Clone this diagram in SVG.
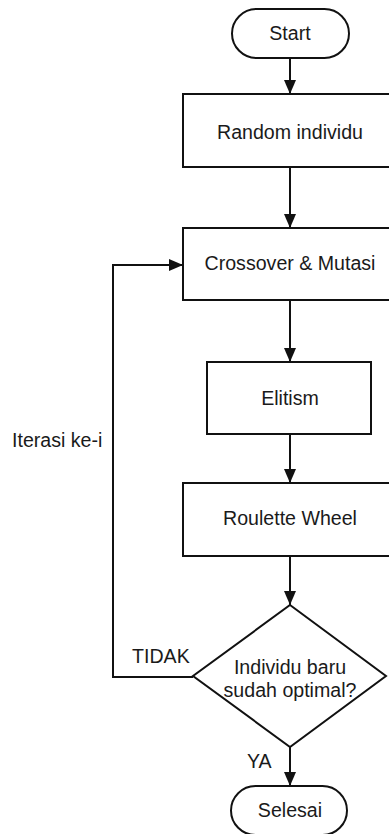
<svg xmlns="http://www.w3.org/2000/svg" width="389" height="834" viewBox="0 0 389 834">
<defs>
<style>
.shape{fill:#fff;stroke:#111;stroke-width:2}
.conn{fill:none;stroke:#111;stroke-width:2}
text{font-family:"Liberation Sans",Arial,sans-serif;font-size:19.6px;fill:#1a1a1a}
.c{text-anchor:middle}
</style>
<marker id="arr" viewBox="0 0 14 12" refX="14" refY="6" markerWidth="14" markerHeight="12" markerUnits="userSpaceOnUse" orient="auto">
<path d="M0,0 L14,6 L0,12 Z" fill="#111"/>
</marker>
</defs>
<rect width="389" height="834" fill="#fff"/>
<g id="connectors">
<line class="conn" x1="290" y1="58" x2="290" y2="94" marker-end="url(#arr)"/>
<line class="conn" x1="290" y1="167" x2="290" y2="228" marker-end="url(#arr)"/>
<line class="conn" x1="290" y1="300" x2="290" y2="362" marker-end="url(#arr)"/>
<line class="conn" x1="290" y1="434" x2="290" y2="483" marker-end="url(#arr)"/>
<line class="conn" x1="290" y1="556" x2="290" y2="605" marker-end="url(#arr)"/>
<line class="conn" x1="290" y1="747" x2="290" y2="786" marker-end="url(#arr)"/>
<polyline class="conn" points="193,677 113,677 113,265 183,265" marker-end="url(#arr)"/>
<text x="132" y="663">TIDAK</text>
<text x="247" y="768">YA</text>
<text x="12" y="447">Iterasi ke-i</text>
</g>
<g id="start">
<rect class="shape" x="232" y="9" width="117" height="49" rx="24.5"/>
<text class="c" x="290" y="40">Start</text>
</g>
<g id="random">
<rect class="shape" x="183" y="94" width="214" height="73"/>
<text class="c" x="290" y="139">Random individu</text>
</g>
<g id="crossover">
<rect class="shape" x="183" y="228" width="214" height="72"/>
<text class="c" x="290" y="270">Crossover &amp; Mutasi</text>
</g>
<g id="elitism">
<rect class="shape" x="207" y="362" width="164" height="72"/>
<text class="c" x="290" y="405">Elitism</text>
</g>
<g id="roulette">
<rect class="shape" x="183" y="483" width="214" height="73"/>
<text class="c" x="290" y="525">Roulette Wheel</text>
</g>
<g id="decision">
<polygon class="shape" points="290,605 386,676 290,747 193,676"/>
<text class="c" x="290" y="674">Individu baru</text>
<text class="c" x="290" y="697">sudah optimal?</text>
</g>
<g id="selesai">
<rect class="shape" x="231" y="786" width="116" height="49" rx="24.5"/>
<text class="c" x="290" y="817">Selesai</text>
</g>
</svg>
